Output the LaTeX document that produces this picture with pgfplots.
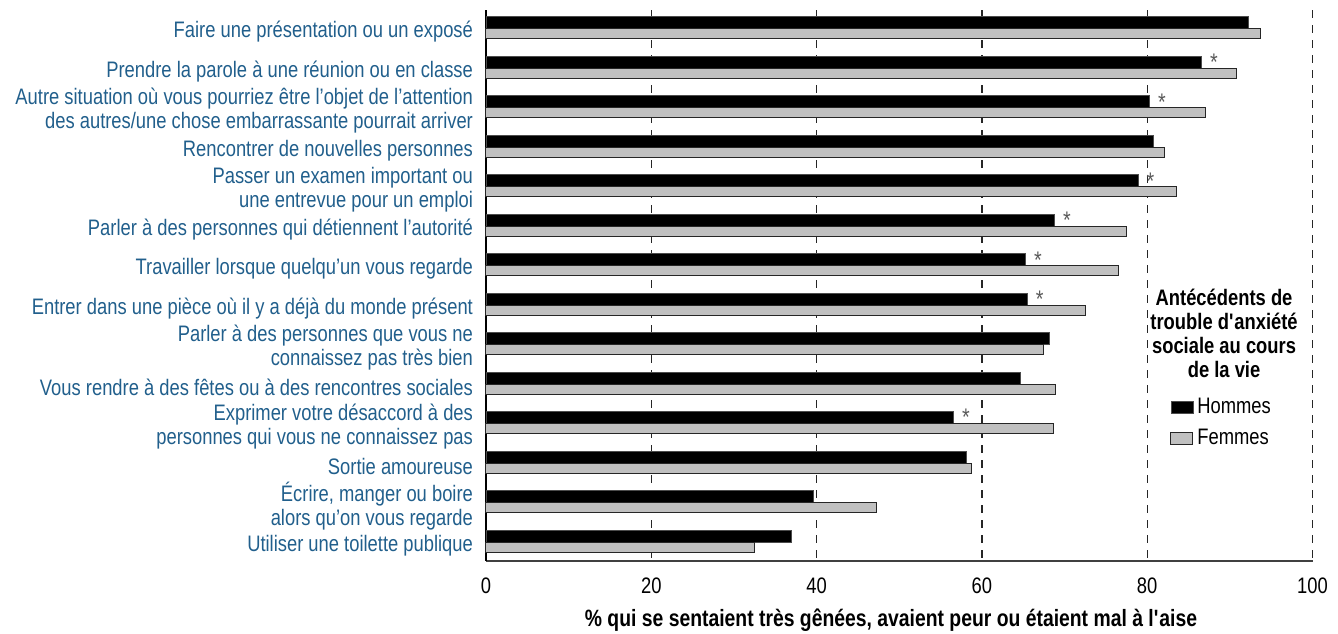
\documentclass[border=0pt]{standalone}
\usepackage{fontspec}
\setmainfont[FakeStretch=0.82]{Liberation Sans}
\usepackage{pgfplots}
\pgfplotsset{compat=1.18}
\definecolor{lblblue}{RGB}{33,95,140}
\definecolor{barfill}{RGB}{192,192,192}
\newcommand{\lbl}{\fontsize{11.2}{12}\selectfont}
\begin{document}
\begin{tikzpicture}
\path[use as bounding box] (-243pt,-36pt) rectangle (426pt,280.5pt);
\begin{axis}[
    at={(0,0)}, anchor=south west,
    scale only axis,
    width=413.25pt, height=275.4pt,
    xbar,
    y dir=reverse,
    xmin=0, xmax=100,
    ymin=0.55, ymax=14.5,
    xtick={0,20,40,60,80,100},
    ytick={1,...,14},
    yticklabels={
        Faire une présentation ou un exposé,
        Prendre la parole à une réunion ou en classe,
        {Autre situation où vous pourriez être l’objet de l’attention\\des autres/une chose embarrassante pourrait arriver},
        Rencontrer de nouvelles personnes,
        {Passer un examen important ou\\une entrevue pour un emploi},
        Parler à des personnes qui détiennent l’autorité,
        Travailler lorsque quelqu’un vous regarde,
        Entrer dans une pièce où il y a déjà du monde présent,
        {Parler à des personnes que vous ne\\connaissez pas très bien},
        Vous rendre à des fêtes ou à des rencontres sociales,
        {Exprimer votre désaccord à des\\personnes qui vous ne connaissez pas},
        Sortie amoureuse,
        {Écrire, manger ou boire\\alors qu’on vous regarde},
        Utiliser une toilette publique
    },
    yticklabel style={align=right, font=\lbl, text=lblblue, xshift=-3pt, yshift=-2pt},
    xticklabel style={font=\lbl, yshift=-5pt},
    /pgf/number format/assume math mode=true,
    major tick length=0pt,
    axis x line*=bottom,
    axis y line*=left,
    x axis line style={draw=black!75, line width=0.9pt},
    y axis line style={draw=black, line width=0.8pt},
    xmajorgrids,
    grid style={draw=black!85, line width=0.6pt, dash pattern=on 4pt off 3.5pt},
    xlabel={\textbf{\% qui se sentaient très gênées, avaient peur ou étaient mal à l\textquotesingle aise}},
    xlabel style={font=\fontsize{11.8}{12}\selectfont, at={(rel axis cs:0.49,0)}, anchor=center, yshift=-29.5pt},
    legend style={at={(rel axis cs:0.8276,0.304)}, anchor=north west, draw=none, fill=none,
        font=\lbl, row sep=2.5pt, inner sep=0pt, nodes={inner sep=2pt}},
    legend cell align=left,
    legend image code/.code={\draw[#1] (0pt,-3pt) rectangle (11pt,3pt);},
    clip=false,
]
\addplot[fill=black, draw=black!70, line width=0.4pt, bar width=0.31, bar shift=-0.13] coordinates {
    (92.2,1) (86.6,2) (80.3,3) (80.8,4) (78.9,5) (68.8,6) (65.3,7)
    (65.5,8) (68.2,9) (64.6,10) (56.6,11) (58.1,12) (39.6,13) (36.9,14)};
\addlegendentry{Hommes}
\addplot[fill=barfill, draw=black!85, line width=0.5pt, bar width=0.255, bar shift=0.15] coordinates {
    (93.7,1) (90.8,2) (87.1,3) (82.1,4) (83.6,5) (77.5,6) (76.5,7)
    (72.5,8) (67.4,9) (68.9,10) (68.7,11) (58.7,12) (47.2,13) (32.5,14)};
\addlegendentry{Femmes}
% significance markers next to the Hommes bars
\addplot[draw=none, fill=none, bar width=0.31, bar shift=-0.13, forget plot,
    nodes near coords={*},
    every node near coord/.append style={anchor=west, inner sep=0pt, xshift=4pt,
        text=black!65, font=\fontsize{12}{12}\selectfont}] coordinates {
    (86.6,2) (80.3,3) (78.9,5) (68.8,6) (65.3,7) (65.5,8) (56.6,11)};
\node[font=\lbl\bfseries, align=center, anchor=center] at (rel axis cs:0.893,0.414)
    {Antécédents de\\trouble d\textquotesingle anxiété\\sociale au cours\\de la vie};
\end{axis}
\end{tikzpicture}
\end{document}
